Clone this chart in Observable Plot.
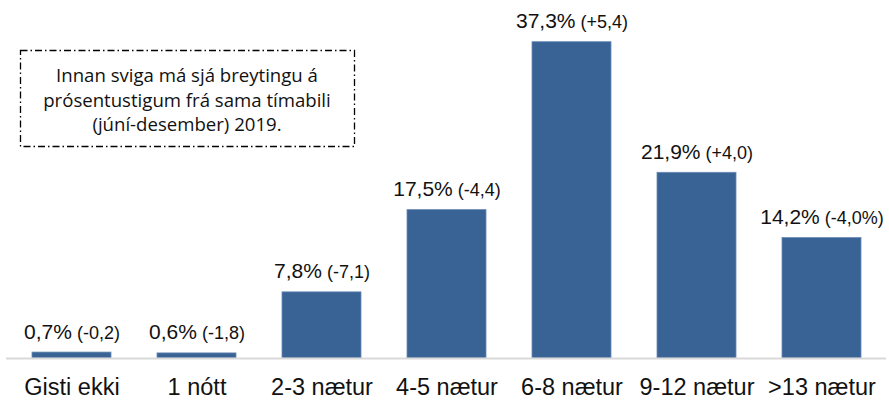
<!DOCTYPE html>
<html>
<head>
<meta charset="utf-8">
<script src="https://cdn.jsdelivr.net/npm/d3@7"></script>
<script src="https://cdn.jsdelivr.net/npm/@observablehq/plot@0.6"></script>
<style>
  html, body { margin: 0; padding: 0; background: #fff; }
  #chart { position: relative; width: 889px; height: 401px; }
</style>
</head>
<body>
<div id="chart"></div>
<script>
const categories = ["Gisti ekki", "1 nótt", "2-3 nætur", "4-5 nætur", "6-8 nætur", "9-12 nætur", ">13 nætur"];
const values = [0.7, 0.6, 7.8, 17.5, 37.3, 21.9, 14.2];
const valueLabels = ["0,7%", "0,6%", "7,8%", "17,5%", "37,3%", "21,9%", "14,2%"];
const changeLabels = ["(-0,2)", "(-1,8)", "(-7,1)", "(-4,4)", "(+5,4)", "(+4,0)", "(-4,0%)"];
const noteLines = ["Innan sviga má sjá breytingu á", "prósentustigum frá sama tímabili", "(júní-desember) 2019."];

const FONT = "Liberation Sans";

const data = categories.map((c, i) => ({
  category: c, value: values[i],
  label: valueLabels[i] + "\u00a0" + changeLabels[i]
}));

const chart = Plot.plot({
  width: 889,
  height: 401,
  marginTop: 41.7,
  marginBottom: 43,
  marginLeft: 6,
  marginRight: 3,
  style: { fontFamily: FONT, background: "#fff" },
  x: { domain: categories, paddingInner: 0.372, paddingOuter: 0.186, label: null },
  y: { domain: [0, 37.3], axis: null },
  marks: [
    Plot.barY(data, { x: "category", y: "value", fill: "#3a6395", stroke: "#6a8bb8", strokeWidth: 0.8 }),
    Plot.ruleY([0], { stroke: "#d9d9d9", strokeWidth: 2 }),
    Plot.axisX({ tickSize: 0, tickPadding: 0, fontSize: 23.5, fontFamily: FONT, fill: "#111", dy: 20 }),
    Plot.text(data, {
      x: "category", y: "value", text: "label",
      lineAnchor: "bottom", dy: -14, fontSize: 21, fontFamily: FONT, fill: "#111",
      className: "vlabel"
    })
  ]
});

document.getElementById("chart").appendChild(chart);

// split value labels into main and smaller change part
d3.select(chart).selectAll("g.vlabel text").each(function() {
  const t = d3.select(this);
  const parts = this.textContent.split("\u00a0");
  t.text(null);
  t.append("tspan").text(parts[0]);
  t.append("tspan").attr("font-size", 18).text("\u00a0" + parts[1]);
});

// annotation box
const svg = d3.select(chart);
const box = svg.append("g").attr("class", "note");
box.append("rect")
  .attr("x", 20.5).attr("y", 50.5).attr("width", 334).attr("height", 96)
  .attr("fill", "none").attr("stroke", "#000").attr("stroke-width", 1.3)
  .attr("stroke-dasharray", "7,3,1.5,3");
box.selectAll("text").data(noteLines).join("text")
  .attr("x", 187).attr("y", (d, i) => 82 + i * 24.5)
  .attr("text-anchor", "middle")
  .attr("font-family", "'Open Sans', sans-serif")
  .attr("font-size", 18.6)
  .attr("fill", "#111")
  .text(d => d);
</script>
</body>
</html>
